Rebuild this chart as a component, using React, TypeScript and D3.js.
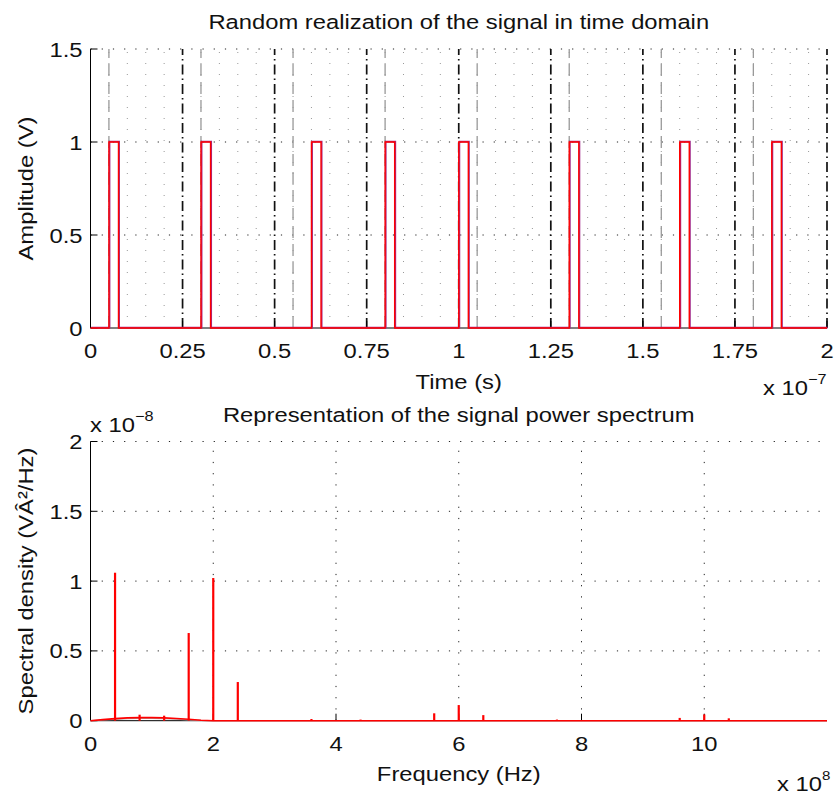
import React from "react";
import * as d3 from "d3";

// ---------- data ----------
// Top: time domain (time in units of 1e-7 s)
const timeTicks = [0, 0.25, 0.5, 0.75, 1, 1.25, 1.5, 1.75, 2];
const timeTickLabels = ["0", "0.25", "0.5", "0.75", "1", "1.25", "1.5", "1.75", "2"];
const ampTicks = [0, 0.5, 1, 1.5];
const ampTickLabels = ["0", "0.5", "1", "1.5"];
const pulseStarts = [0.05, 0.3, 0.6, 0.8, 1.0, 1.3, 1.6, 1.85];
const pulseWidth = 0.026;
const pulseAmp = 1;
const frameMarks = [0.25, 0.5, 0.75, 1, 1.25, 1.5, 1.75, 2];
const slotMarks = [0.05, 0.3, 0.55, 0.8, 1.05, 1.3, 1.55, 1.8];

// Bottom: spectrum (freq in units of 1e8 Hz, PSD in units of 1e-8)
const freqTicks = [0, 2, 4, 6, 8, 10];
const freqTickLabels = ["0", "2", "4", "6", "8", "10"];
const psdTicks = [0, 0.5, 1, 1.5, 2];
const psdTickLabels = ["0", "0.5", "1", "1.5", "2"];
const spikeFreqs = [0.4, 0.8, 1.2, 1.6, 2.0, 2.4, 3.6, 4.4, 5.6, 6.0, 6.4, 7.6, 9.6, 10.0, 10.4];
const spikeValues = [1.06, 0.043, 0.036, 0.628, 1.022, 0.277, 0.012, 0.008, 0.053, 0.112, 0.04, 0.008, 0.02, 0.045, 0.017];
const humpFreqs = [0, 0.2, 0.4, 0.6, 0.8, 1.0, 1.2, 1.4, 1.6, 1.8, 2.0, 12];
const humpValues = [0, 0.008, 0.015, 0.02, 0.022, 0.022, 0.02, 0.016, 0.01, 0.003, 0, 0];
const humpTheory = [0, 0.005, 0.01, 0.014, 0.016, 0.016, 0.014, 0.011, 0.006, 0.002, 0, 0];

// ---------- layout ----------
const W = 834;
const H = 796;
const L = 90.5;
const R = 827;
const top1 = 49;
const bot1 = 328;
const top2 = 441.5;
const bot2 = 720.7;
const FS = 20.5;
const SX = 1.16;
const FONT = "'Liberation Sans', Arial, Helvetica, sans-serif";

function Txt({ x, y, anchor = "middle", rot = false, size = FS, children }: any) {
  return (
    <text
      transform={`translate(${x},${y})${rot ? " rotate(-90)" : ""} scale(${SX},1)`}
      textAnchor={anchor}
      fontSize={size}
      fontFamily={FONT}
      fill="#111"
    >
      {children}
    </text>
  );
}

export default function App() {
  const x1 = d3.scaleLinear().domain([0, 2]).range([L, R]);
  const y1 = d3.scaleLinear().domain([0, 1.5]).range([bot1, top1]);
  const x2 = d3.scaleLinear().domain([0, 12]).range([L, R]);
  const y2 = d3.scaleLinear().domain([0, 2]).range([bot2, top2]);

  // pulse train
  const pts: [number, number][] = [[0, 0]];
  pulseStarts.forEach((s) => {
    pts.push([s, 0], [s, pulseAmp], [s + pulseWidth, pulseAmp], [s + pulseWidth, 0]);
  });
  pts.push([2, 0]);
  const pulseLine = d3.line<[number, number]>().x((d) => x1(d[0])).y((d) => y1(d[1]));
  const pulsePath = pulseLine(pts) || "";

  const minorTime = d3
    .range(1, 40)
    .map((i) => i * 0.05)
    .filter((v) => Math.abs(v / 0.25 - Math.round(v / 0.25)) > 1e-6);

  const humpLine = d3.line<number>().x((_, i) => x2(humpFreqs[i])).y((d) => y2(d));

  const majorDot = { stroke: "#222", strokeWidth: 1, strokeDasharray: "1.2,10" };
  const minorDot = { stroke: "#999", strokeWidth: 1, strokeDasharray: "1,10" };

  return (
    <svg width={W} height={H} style={{ position: "absolute", left: 0, top: 0, background: "#fff" }}>
      <rect x={0} y={0} width={W} height={H} fill="#fff" />
      {/* ===== TOP PLOT ===== */}
      <g>
        {minorTime.map((v, i) => (
          <line key={"mt" + i} x1={x1(v)} x2={x1(v)} y1={bot1} y2={top1} {...minorDot} />
        ))}
        {ampTicks
          .filter((v) => v > 0)
          .map((v, i) => (
            <line key={"ag" + i} x1={L} x2={R} y1={y1(v)} y2={y1(v)} {...majorDot} />
          ))}
        {slotMarks.map((v, i) => (
          <line key={"sm" + i} x1={x1(v)} x2={x1(v)} y1={bot1} y2={top1} stroke="#999" strokeWidth={1.3} strokeDasharray="12,6" />
        ))}
        {frameMarks.map((v, i) => (
          <line key={"fm" + i} x1={x1(v)} x2={x1(v)} y1={bot1} y2={top1} stroke="#111" strokeWidth={1.7} strokeDasharray="10,4,1.5,4" />
        ))}
        {/* axes */}
        <line x1={L} x2={R} y1={bot1} y2={bot1} stroke="#000" strokeWidth={1} />
        <line x1={L} x2={L} y1={bot1} y2={top1} stroke="#000" strokeWidth={1} />
        {timeTicks.map((v, i) => (
          <line key={"tt" + i} x1={x1(v)} x2={x1(v)} y1={bot1} y2={bot1 - 7} stroke="#000" />
        ))}
        {ampTicks.map((v, i) => (
          <line key={"at" + i} x1={L} x2={L + 7} y1={y1(v)} y2={y1(v)} stroke="#000" />
        ))}
        {/* signal */}
        <path d={pulsePath} fill="none" stroke="#a02a8a" strokeWidth={1.6} transform="translate(0.7,-0.4)" />
        <path d={pulsePath} fill="none" stroke="#ff0000" strokeWidth={1.4} />
        {/* labels */}
        {timeTicks.map((v, i) => (
          <Txt key={"tl" + i} x={x1(v)} y={bot1 + 30}>
            {timeTickLabels[i]}
          </Txt>
        ))}
        {ampTicks.map((v, i) => (
          <Txt key={"al" + i} x={L - 8} y={y1(v) + 7.5} anchor="end">
            {ampTickLabels[i]}
          </Txt>
        ))}
        <Txt x={(L + R) / 2} y={29}>Random realization of the signal in time domain</Txt>
        <Txt x={(L + R) / 2} y={389}>Time (s)</Txt>
        <Txt x={33} y={(top1 + bot1) / 2} rot>
          Amplitude (V)
        </Txt>
        <Txt x={763} y={395} anchor="start">
          <tspan>x 10</tspan>
          <tspan dy={-11} fontSize={14}>−7</tspan>
        </Txt>
      </g>

      {/* ===== BOTTOM PLOT ===== */}
      <g>
        {freqTicks
          .filter((v) => v > 0)
          .map((v, i) => (
            <line key={"fg" + i} x1={x2(v)} x2={x2(v)} y1={bot2} y2={top2} {...majorDot} />
          ))}
        {psdTicks
          .filter((v) => v > 0)
          .map((v, i) => (
            <line key={"pg" + i} x1={L} x2={R} y1={y2(v)} y2={y2(v)} {...majorDot} />
          ))}
        <line x1={L} x2={R} y1={bot2} y2={bot2} stroke="#000" strokeWidth={1} />
        <line x1={L} x2={L} y1={bot2} y2={top2} stroke="#000" strokeWidth={1} />
        {freqTicks.map((v, i) => (
          <line key={"ft" + i} x1={x2(v)} x2={x2(v)} y1={bot2} y2={bot2 - 7} stroke="#000" />
        ))}
        {psdTicks.map((v, i) => (
          <line key={"pt" + i} x1={L} x2={L + 7} y1={y2(v)} y2={y2(v)} stroke="#000" />
        ))}
        <path d={humpLine(humpTheory) || ""} fill="none" stroke="#aaa" strokeWidth={1.2} />
        <path d={humpLine(humpValues) || ""} fill="none" stroke="#ff0000" strokeWidth={1.6} />
        {spikeFreqs.map((f, i) => (
          <line key={"sp" + i} x1={x2(f)} x2={x2(f)} y1={y2(0)} y2={y2(spikeValues[i])} stroke="#ff0000" strokeWidth={2.2} />
        ))}
        {freqTicks.map((v, i) => (
          <Txt key={"fl" + i} x={x2(v)} y={bot2 + 30}>
            {freqTickLabels[i]}
          </Txt>
        ))}
        {psdTicks.map((v, i) => (
          <Txt key={"pl" + i} x={L - 8} y={y2(v) + 7.5} anchor="end">
            {psdTickLabels[i]}
          </Txt>
        ))}
        <Txt x={(L + R) / 2} y={422}>Representation of the signal power spectrum</Txt>
        <Txt x={(L + R) / 2} y={781}>Frequency (Hz)</Txt>
        <Txt x={33} y={581} rot>
          Spectral density (VÂ²/Hz)
        </Txt>
        <Txt x={90} y={432} anchor="start">
          <tspan>x 10</tspan>
          <tspan dy={-11} fontSize={14}>−8</tspan>
        </Txt>
        <Txt x={777} y={791} anchor="start">
          <tspan>x 10</tspan>
          <tspan dy={-11} fontSize={13}>8</tspan>
        </Txt>
      </g>
    </svg>
  );
}
